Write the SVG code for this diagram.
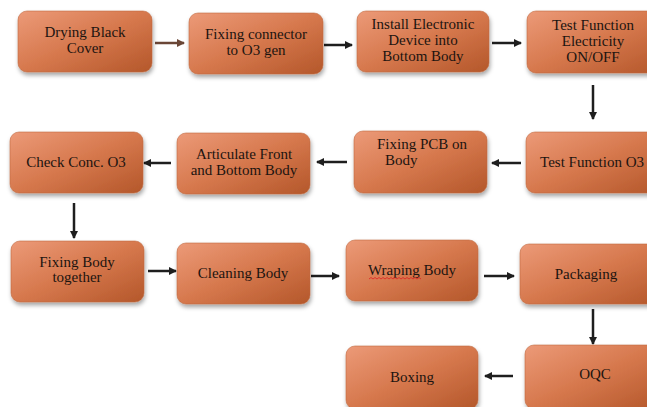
<svg xmlns="http://www.w3.org/2000/svg" width="647" height="407" viewBox="0 0 647 407">
<defs>
<linearGradient id="g" x1="0" y1="0" x2="1" y2="1">
<stop offset="0" stop-color="#ec9a78"/>
<stop offset="0.5" stop-color="#d6784d"/>
<stop offset="1" stop-color="#b4572a"/>
</linearGradient>
<filter id="sh" x="-10%" y="-10%" width="125%" height="135%">
<feDropShadow dx="1" dy="3" stdDeviation="2" flood-color="#000" flood-opacity="0.35"/>
</filter>
<marker id="ah" viewBox="0 0 8 8" refX="7" refY="4" markerWidth="3.2" markerHeight="3.2" markerUnits="strokeWidth" orient="auto">
<path d="M0,0 L8,4 L0,8 z" fill="#1e1e1e"/>
</marker>
<marker id="ahb" viewBox="0 0 8 8" refX="7" refY="4" markerWidth="3.2" markerHeight="3.2" markerUnits="strokeWidth" orient="auto">
<path d="M0,0 L8,4 L0,8 z" fill="#6a4636"/>
</marker>
</defs>
<style>
.box{fill:url(#g);filter:url(#sh);stroke:#c06a40;stroke-width:0.6}
.t{font-family:"Liberation Serif","DejaVu Serif",serif;font-size:15px;fill:#1c1410;text-anchor:middle}
.c{stroke:#1e1e1e;stroke-width:2.5;fill:none;marker-end:url(#ah)}
</style>

<g id="connectors">
<line x1="155" y1="43" x2="184" y2="43" style="stroke:#6a4636;stroke-width:2.5;marker-end:url(#ahb)"/>
<line x1="324" y1="45" x2="352" y2="45" class="c"/>
<line x1="492" y1="43" x2="521" y2="43" class="c"/>
<line x1="593" y1="85" x2="593" y2="119" class="c"/>
<line x1="521" y1="163" x2="492" y2="163" class="c"/>
<line x1="347" y1="162" x2="317" y2="162" class="c"/>
<line x1="171" y1="163" x2="144" y2="163" class="c"/>
<line x1="74" y1="203" x2="74" y2="238" class="c"/>
<line x1="148" y1="271" x2="176" y2="271" class="c"/>
<line x1="311" y1="276" x2="339" y2="276" class="c"/>
<line x1="484" y1="276" x2="514" y2="276" class="c"/>
<line x1="593" y1="309" x2="593" y2="344" class="c"/>
<line x1="513" y1="376" x2="485" y2="376" class="c"/>
</g>

<g id="n1"><rect class="box" x="18" y="11" width="134" height="61" rx="9"/>
<text class="t" x="85" y="37">Drying Black</text><text class="t" x="85" y="53">Cover</text></g>
<g id="n2"><rect class="box" x="189" y="13" width="134" height="61" rx="9"/>
<text class="t" x="256" y="39">Fixing connector</text><text class="t" x="256" y="55">to O3 gen</text></g>
<g id="n3"><rect class="box" x="357" y="11" width="132" height="61" rx="9"/>
<text class="t" x="423" y="29">Install Electronic</text><text class="t" x="423" y="45">Device into</text><text class="t" x="423" y="61">Bottom Body</text></g>
<g id="n4"><rect class="box" x="527" y="11" width="134" height="62" rx="9"/>
<text class="t" x="593" y="30">Test Function</text><text class="t" x="593" y="46">Electricity</text><text class="t" x="593" y="62">ON/OFF</text></g>

<g id="n5"><rect class="box" x="10" y="132" width="133" height="61" rx="9"/>
<text class="t" x="76" y="167">Check Conc. O3</text></g>
<g id="n6"><rect class="box" x="177" y="133" width="133" height="61" rx="9"/>
<text class="t" x="244" y="159">Articulate Front</text><text class="t" x="244" y="175">and Bottom Body</text></g>
<g id="n7"><rect class="box" x="354" y="131" width="133" height="62" rx="9"/>
<text class="t" x="377" y="149" style="text-anchor:start">Fixing PCB on</text><text class="t" x="385" y="165" style="text-anchor:start">Body</text></g>
<g id="n8"><rect class="box" x="526" y="132" width="135" height="61" rx="9"/>
<text class="t" x="592" y="167">Test Function O3</text></g>

<g id="n9"><rect class="box" x="11" y="241" width="133" height="61" rx="9"/>
<text class="t" x="77" y="267">Fixing Body</text><text class="t" x="77" y="282">together</text></g>
<g id="n10"><rect class="box" x="177" y="243" width="133" height="61" rx="9"/>
<text class="t" x="243" y="278">Cleaning Body</text></g>
<g id="n11"><rect class="box" x="346" y="240" width="132" height="61" rx="9"/>
<text class="t" x="412" y="275">Wraping Body</text>
<path d="M369,279 l2,-1.5 l2,1.5 l2,-1.5 l2,1.5 l2,-1.5 l2,1.5 l2,-1.5 l2,1.5 l2,-1.5 l2,1.5 l2,-1.5 l2,1.5 l2,-1.5 l2,1.5 l2,-1.5 l2,1.5 l2,-1.5 l2,1.5 l2,-1.5 l2,1.5 l2,-1.5 l2,1.5 l2,-1.5 l2,1.5 l2,-1.5 l2,1.5" fill="none" stroke="#e02020" stroke-width="0.8"/></g>
<g id="n12"><rect class="box" x="520" y="244" width="141" height="60" rx="9"/>
<text class="t" x="586" y="279">Packaging</text></g>

<g id="n13"><rect class="box" x="346" y="346" width="132" height="63" rx="9"/>
<text class="t" x="412" y="382">Boxing</text></g>
<g id="n14"><rect class="box" x="525" y="345" width="136" height="64" rx="9"/>
<text class="t" x="595" y="379">OQC</text></g>
</svg>
